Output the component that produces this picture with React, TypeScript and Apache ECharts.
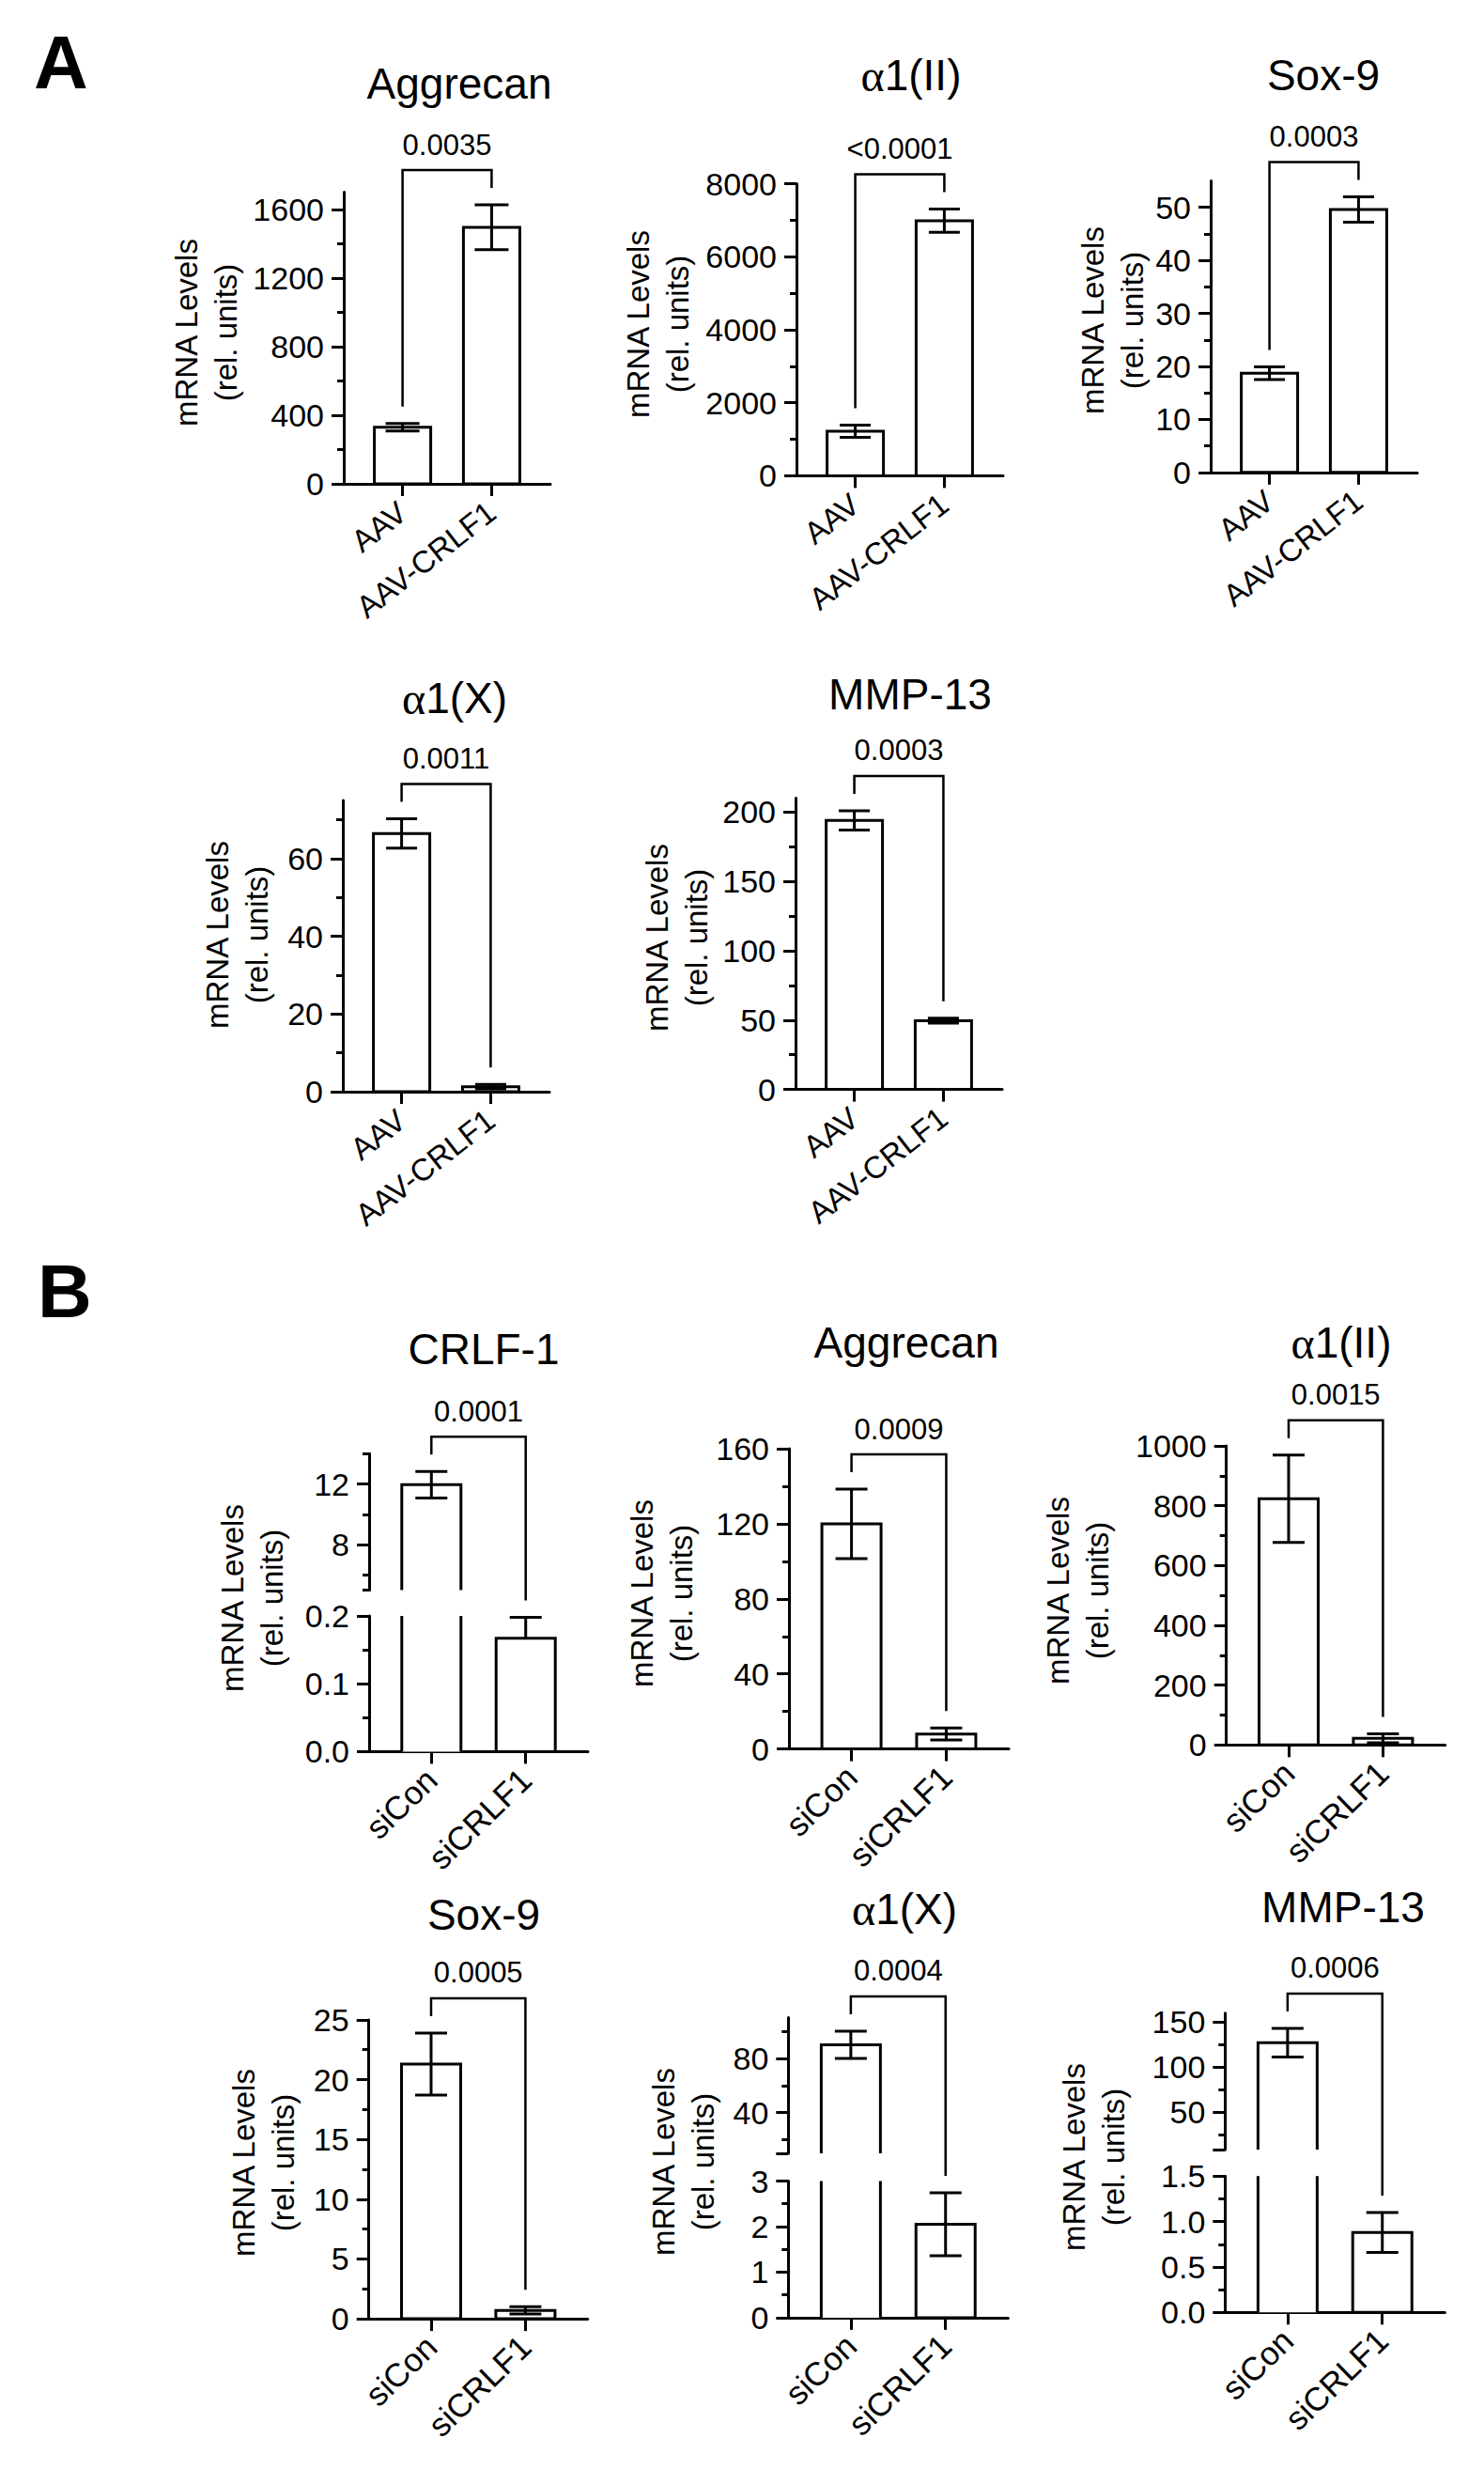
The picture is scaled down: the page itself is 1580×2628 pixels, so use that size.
import React, { useEffect, useRef } from 'react';
import * as echarts from 'echarts';

const FONT = '"Liberation Sans", Arial, Helvetica, sans-serif';
const SERIF = '"Liberation Serif", "DejaVu Serif", serif';

// ---------- data ----------
const groupsA = ['AAV', 'AAV-CRLF1'];
const groupsB = ['siCon', 'siCRLF1'];

const aggrecanA = [330, 1495];
const aggrecanASem = [22, 131];
const col2a1A = [1220, 6990];
const col2a1ASem = [170, 320];
const sox9A = [18.7, 49.6];
const sox9ASem = [1.2, 2.4];
const col10a1A = [66.5, 1.3];
const col10a1ASem = [3.8, 0.6];
const mmp13A = [194, 49.6];
const mmp13ASem = [7, 1.8];

const crlf1B = [11.95, 0.167];
const crlf1BSem = [0.88, 0.031];
const aggrecanB = [120, 8];
const aggrecanBSem = [18.5, 3.2];
const col2a1B = [823, 22];
const col2a1BSem = [146, 15];
const sox9B = [21.3, 0.7];
const sox9BSem = [2.6, 0.3];
const col10a1B = [90, 2.05];
const col10a1BSem = [10, 0.69];
const mmp13B = [127, 0.88];
const mmp13BSem = [16, 0.22];

const pValuesA = ['0.0035', '<0.0001', '0.0003', '0.0011', '0.0003'];
const pValuesB = ['0.0001', '0.0009', '0.0015', '0.0005', '0.0004', '0.0006'];

// tick values
const ticksAggrecanA = [0, 400, 800, 1200, 1600];
const minorAggrecanA = [200, 600, 1000, 1400];
const ticksCol2A = [0, 2000, 4000, 6000, 8000];
const minorCol2A = [1000, 3000, 5000, 7000];
const ticksSox9A = [0, 10, 20, 30, 40, 50];
const minorSox9A = [5, 15, 25, 35, 45];
const ticksCol10A = [0, 20, 40, 60];
const minorCol10A = [10, 30, 50, 70];
const ticksMmp13A = [0, 50, 100, 150, 200];
const minorMmp13A = [25, 75, 125, 175];

const ticksCrlf1BLow = [0, 0.1, 0.2];
const minorCrlf1BLow = [0.05, 0.15];
const ticksCrlf1BHigh = [8, 12];
const minorCrlf1BHigh = [5, 6, 10, 14];
const ticksAggrecanB = [0, 40, 80, 120, 160];
const minorAggrecanB = [20, 60, 100, 140];
const ticksCol2B = [0, 200, 400, 600, 800, 1000];
const minorCol2B = [100, 300, 500, 700, 900];
const ticksSox9B = [0, 5, 10, 15, 20, 25];
const minorSox9B = [2.5, 7.5, 12.5, 17.5, 22.5];
const ticksCol10BLow = [0, 1, 2, 3];
const minorCol10BLow = [0.5, 1.5, 2.5];
const ticksCol10BHigh = [10, 40, 80];
const labelsCol10BHigh = [40, 80];
const minorCol10BHigh = [20, 60, 100];
const ticksMmp13BLow = [0, 0.5, 1, 1.5];
const minorMmp13BLow = [0.25, 0.75, 1.25];
const ticksMmp13BHigh = [8, 50, 100, 150];
const labelsMmp13BHigh = [50, 100, 150];
const minorMmp13BHigh = [25, 75, 125];

// ---------- layout ----------
type Seg = { min: number; max: number; major: number[]; labels: number[]; minor: number[]; top: number; bottom: number; dec: number };
type Panel = {
  title: string; greek: boolean; groups: string[]; mean: number[]; sem: number[]; lower: boolean[]; p: string;
  left: number; width: number; barW: number; capW: number; segs: Seg[]; catRotate: number; catSize: number; catMargin: number;
  titleX: number; titleY: number; yTitleX: number; yTitleY: number;
};

const seg = (min: number, max: number, major: number[], minor: number[], top: number, bottom: number, dec = 0, labels?: number[]): Seg =>
  ({ min, max, major, minor, top, bottom, dec, labels: labels || major });

const A_ROT = 38;
const B_ROT = 44;
const A_CAT = 33;
const B_CAT = 35;
const A_MARGIN = 26;
const B_MARGIN = 24;

const A_CATS = { catRotate: A_ROT, catSize: A_CAT, catMargin: A_MARGIN };
const B_CATS = { catRotate: B_ROT, catSize: B_CAT, catMargin: B_MARGIN };

const panels: Panel[] = [
  { title: 'Aggrecan', greek: false, groups: groupsA, mean: aggrecanA, sem: aggrecanASem, lower: [true, true], p: pValuesA[0],
    left: 366, width: 220, barW: 60, capW: 36, ...A_CATS, segs: [seg(0, 1700, ticksAggrecanA, minorAggrecanA, 204.5, 515)],
    titleX: 489, titleY: 89, yTitleX: 219, yTitleY: 354 },
  { title: '1(II)', greek: true, groups: groupsA, mean: col2a1A, sem: col2a1ASem, lower: [true, true], p: pValuesA[1],
    left: 848, width: 220, barW: 60, capW: 33, ...A_CATS, segs: [seg(0, 8000, ticksCol2A, minorCol2A, 195.7, 506.4)],
    titleX: 970, titleY: 80, yTitleX: 700, yTitleY: 345 },
  { title: 'Sox-9', greek: false, groups: groupsA, mean: sox9A, sem: sox9ASem, lower: [true, true], p: pValuesA[2],
    left: 1289, width: 220, barW: 60, capW: 33, ...A_CATS, segs: [seg(0, 55, ticksSox9A, minorSox9A, 192.5, 502.8)],
    titleX: 1409, titleY: 80, yTitleX: 1184, yTitleY: 341 },
  { title: '1(X)', greek: true, groups: groupsA, mean: col10a1A, sem: col10a1ASem, lower: [true, true], p: pValuesA[3],
    left: 365, width: 220, barW: 60, capW: 33, ...A_CATS, segs: [seg(0, 75, ticksCol10A, minorCol10A, 852, 1162)],
    titleX: 484, titleY: 743, yTitleX: 252, yTitleY: 995 },
  { title: 'MMP-13', greek: false, groups: groupsA, mean: mmp13A, sem: mmp13ASem, lower: [true, true], p: pValuesA[4],
    left: 847, width: 220, barW: 60, capW: 33, ...A_CATS, segs: [seg(0, 210, ticksMmp13A, minorMmp13A, 849.6, 1159.6)],
    titleX: 969, titleY: 739, yTitleX: 720, yTitleY: 998 },

  { title: 'CRLF-1', greek: false, groups: groupsB, mean: crlf1B, sem: crlf1BSem, lower: [true, false], p: pValuesB[0],
    left: 393, width: 233, barW: 63, capW: 34, ...B_CATS,
    segs: [seg(0, 0.2, ticksCrlf1BLow, minorCrlf1BLow, 1720, 1864.4, 1), seg(5, 14, ticksCrlf1BHigh, minorCrlf1BHigh, 1547.3, 1692.4)],
    titleX: 515, titleY: 1436, yTitleX: 268, yTitleY: 1701 },
  { title: 'Aggrecan', greek: false, groups: groupsB, mean: aggrecanB, sem: aggrecanBSem, lower: [true, true], p: pValuesB[1],
    left: 840, width: 234, barW: 63, capW: 34, ...B_CATS, segs: [seg(0, 160, ticksAggrecanB, minorAggrecanB, 1542.1, 1861.6)],
    titleX: 965, titleY: 1429, yTitleX: 704, yTitleY: 1696 },
  { title: '1(II)', greek: true, groups: groupsB, mean: col2a1B, sem: col2a1BSem, lower: [true, true], p: pValuesB[2],
    left: 1305.7, width: 233, barW: 63, capW: 34, ...B_CATS, segs: [seg(0, 1000, ticksCol2B, minorCol2B, 1539, 1857.3)],
    titleX: 1428, titleY: 1429, yTitleX: 1147, yTitleY: 1693 },
  { title: 'Sox-9', greek: false, groups: groupsB, mean: sox9B, sem: sox9BSem, lower: [true, true], p: pValuesB[3],
    left: 392.7, width: 233, barW: 63, capW: 34, ...B_CATS, segs: [seg(0, 25, ticksSox9B, minorSox9B, 2149.9, 2468.1)],
    titleX: 515, titleY: 2038, yTitleX: 280, yTitleY: 2302 },
  { title: '1(X)', greek: true, groups: groupsB, mean: col10a1B, sem: col10a1BSem, lower: [true, true], p: pValuesB[4],
    left: 839.3, width: 234, barW: 63, capW: 34, ...B_CATS,
    segs: [seg(0, 3, ticksCol10BLow, minorCol10BLow, 2321.5, 2466.9), seg(10, 110, ticksCol10BHigh, minorCol10BHigh, 2147.5, 2292.1, 0, labelsCol10BHigh)],
    titleX: 963, titleY: 2032, yTitleX: 727, yTitleY: 2301 },
  { title: 'MMP-13', greek: false, groups: groupsB, mean: mmp13B, sem: mmp13BSem, lower: [true, true], p: pValuesB[5],
    left: 1304.3, width: 234, barW: 63, capW: 34, ...B_CATS,
    segs: [seg(0, 1.5, ticksMmp13BLow, minorMmp13BLow, 2316.2, 2461.3, 1), seg(8, 160, ticksMmp13BHigh, minorMmp13BHigh, 2142.7, 2288.1, 0, labelsMmp13BHigh)],
    titleX: 1430, titleY: 2030, yTitleX: 1164, yTitleY: 2296 },
];

const X_MIN = -0.66;
const X_MAX = 1.66;
const LINE = { color: '#000', width: 3 };
const STROKE = { stroke: '#000', lineWidth: 3, fill: 'none' };
const TICK_FONT = 34;
const TITLE_FONT = 46;
const P_FONT = 31;
const YTITLE_FONT = 33;

function barRenderer(sg: Seg, barW: number, isBottom: boolean) {
  return (_p: any, api: any) => {
    const x = api.value(0);
    const v = api.value(1);
    if (v <= sg.min) return null;
    const topV = Math.min(v, sg.max);
    const base = api.coord([x, sg.min]);
    const tp = api.coord([x, topV]);
    const xl = base[0] - barW / 2;
    const xr = base[0] + barW / 2;
    const children: any[] = [];
    if (v <= sg.max && isBottom) {
      children.push({ type: 'rect', shape: { x: xl, y: tp[1], width: barW, height: base[1] - tp[1] },
        style: { fill: '#fff', stroke: '#000', lineWidth: 3 } });
    } else {
      children.push({ type: 'rect', shape: { x: xl, y: tp[1], width: barW, height: base[1] - tp[1] }, style: { fill: '#fff' } });
      if (v <= sg.max) {
        children.push({ type: 'polyline', shape: { points: [[xl, base[1]], [xl, tp[1]], [xr, tp[1]], [xr, base[1]]] }, style: STROKE });
      } else {
        children.push({ type: 'line', shape: { x1: xl, y1: base[1], x2: xl, y2: tp[1] }, style: STROKE });
        children.push({ type: 'line', shape: { x1: xr, y1: base[1], x2: xr, y2: tp[1] }, style: STROKE });
      }
    }
    return { type: 'group', children };
  };
}

function errRenderer(sg: Seg, capW: number) {
  return (_p: any, api: any) => {
    const x = api.value(0);
    const m = api.value(1);
    const eL = api.value(2);
    const eH = api.value(3);
    const lo = m - eL;
    const hi = m + eH;
    const a = Math.max(lo, sg.min);
    const b = Math.min(hi, sg.max);
    if (a >= b) return null;
    const pa = api.coord([x, a]);
    const pb = api.coord([x, b]);
    const children: any[] = [{ type: 'line', shape: { x1: pa[0], y1: pa[1], x2: pb[0], y2: pb[1] }, style: STROKE }];
    if (hi <= sg.max && hi >= sg.min) {
      children.push({ type: 'line', shape: { x1: pb[0] - capW / 2, y1: pb[1], x2: pb[0] + capW / 2, y2: pb[1] }, style: STROKE });
    }
    if (eL > 0 && lo >= sg.min && lo <= sg.max) {
      children.push({ type: 'line', shape: { x1: pa[0] - capW / 2, y1: pa[1], x2: pa[0] + capW / 2, y2: pa[1] }, style: STROKE });
    }
    return { type: 'group', children };
  };
}

export default function App() {
  const ref = useRef<HTMLDivElement>(null);
  useEffect(() => {
    const el = ref.current as HTMLDivElement;
    const chart = echarts.init(el, null, { renderer: 'svg' });
    const grid: any[] = [];
    const xAxis: any[] = [];
    const yAxis: any[] = [];
    const series: any[] = [];
    const refs: any[][] = [];

    panels.forEach((pn) => {
      const pr: any[] = [];
      pn.segs.forEach((sg, si) => {
        const isBottom = si === 0;
        const gi = grid.length;
        grid.push({ left: pn.left, top: sg.top, width: pn.width, height: sg.bottom - sg.top, containLabel: false, outerBoundsMode: 'none', show: false });
        xAxis.push({
          type: 'value', gridIndex: gi, min: X_MIN, max: X_MAX, position: 'bottom', show: isBottom,
          axisLine: { show: true, onZero: false, lineStyle: LINE },
          axisTick: { show: true, customValues: [0, 1], length: 13, lineStyle: LINE },
          axisLabel: { show: true, customValues: [0, 1], rotate: pn.catRotate, margin: pn.catMargin, color: '#000', fontSize: pn.catSize, fontFamily: FONT,
            formatter: (v: number) => pn.groups[Math.round(v)] || '' },
          splitLine: { show: false },
        });
        const yi = yAxis.length;
        yAxis.push({
          type: 'value', gridIndex: gi, min: sg.min, max: sg.max, position: 'left',
          axisLine: { show: true, onZero: false, lineStyle: LINE },
          axisTick: { show: true, customValues: sg.major, length: 13, lineStyle: LINE },
          axisLabel: { show: true, customValues: sg.labels, margin: 21, color: '#000', fontSize: TICK_FONT, fontFamily: FONT,
            formatter: (v: number) => v.toFixed(sg.dec) },
          splitLine: { show: false },
        });
        yAxis.push({
          type: 'value', gridIndex: gi, min: sg.min, max: sg.max, position: 'left',
          axisLine: { show: false, onZero: false },
          axisTick: { show: true, customValues: sg.minor, length: 7, lineStyle: LINE },
          axisLabel: { show: false },
          splitLine: { show: false },
        });
        pr.push({ x: gi, y: yi });
        const data = pn.mean.map((m, i) => [i, m, pn.lower[i] ? pn.sem[i] : 0, pn.sem[i]]);
        series.push({ type: 'custom', xAxisIndex: gi, yAxisIndex: yi, data, encode: { x: 0, y: 1 }, z: 2, silent: true,
          renderItem: barRenderer(sg, pn.barW, isBottom) });
        series.push({ type: 'custom', xAxisIndex: gi, yAxisIndex: yi, data, encode: { x: 0, y: 1 }, z: 3, silent: true,
          renderItem: errRenderer(sg, pn.capW) });
      });
      refs.push(pr);
    });

    chart.setOption({ animation: false, backgroundColor: '#fff', grid, xAxis, yAxis, series });

    const g: any[] = [];
    g.push({ type: 'text', x: 36, y: 66, style: { text: 'A', fontSize: 80, fontWeight: 'bold', fontFamily: FONT, fill: '#000', align: 'left', verticalAlign: 'middle' } });
    g.push({ type: 'text', x: 40, y: 1374, style: { text: 'B', fontSize: 80, fontWeight: 'bold', fontFamily: FONT, fill: '#000', align: 'left', verticalAlign: 'middle' } });

    panels.forEach((pn, pi) => {
      g.push({ type: 'text', x: pn.titleX, y: pn.titleY, style: {
        text: pn.greek ? '{g|α}' + pn.title : pn.title,
        rich: { g: { fontFamily: SERIF, fontSize: TITLE_FONT + 2, fill: '#000' } },
        fontSize: TITLE_FONT, fontFamily: FONT, fill: '#000', align: 'center', verticalAlign: 'middle' } });
      g.push({ type: 'text', x: pn.yTitleX, y: pn.yTitleY, rotation: Math.PI / 2, style: {
        text: 'mRNA Levels\n(rel. units)', fontSize: YTITLE_FONT, lineHeight: 42, fontFamily: FONT, fill: '#000', align: 'center', verticalAlign: 'middle' } });

      // bracket from error-bar tops, through the axes' own scales
      const pts = pn.mean.map((m, i) => {
        const top = m + pn.sem[i];
        let si = pn.segs.findIndex((s) => top >= s.min && top <= s.max);
        if (si < 0) si = pn.segs.length - 1;
        const r = refs[pi][si];
        return chart.convertToPixel({ xAxisIndex: r.x, yAxisIndex: r.y } as any, [i, top]) as number[];
      });
      const legs = pts.map((p) => p[1] - 18);
      const topY = Math.min(legs[0], legs[1]) - 19;
      g.push({ type: 'polyline', shape: { points: [[pts[0][0], legs[0]], [pts[0][0], topY], [pts[1][0], topY], [pts[1][0], legs[1]]] },
        style: { stroke: '#000', lineWidth: 2.5, fill: 'none' } });
      g.push({ type: 'text', x: (pts[0][0] + pts[1][0]) / 2, y: topY - 27, style: {
        text: pn.p, fontSize: P_FONT, fontFamily: FONT, fill: '#000', align: 'center', verticalAlign: 'middle' } });
    });

    chart.setOption({ graphic: g });
    return () => chart.dispose();
  }, []);
  return <div ref={ref} style={{ position: 'absolute', left: 0, top: 0, width: 1580, height: 2628, background: '#fff' }} />;
}
